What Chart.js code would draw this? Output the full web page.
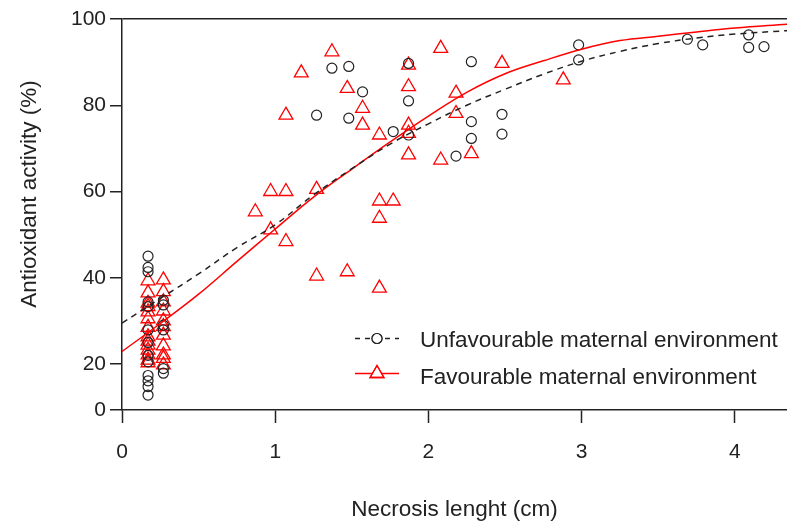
<!DOCTYPE html>
<html>
<head>
<meta charset="utf-8">
<title>Antioxidant activity vs necrosis length</title>
<script src="https://cdn.jsdelivr.net/npm/chart.js@4.4.1/dist/chart.umd.min.js"></script>
<style>
  html, body { margin: 0; padding: 0; background: #ffffff; }
  #wrap { position: relative; width: 787px; height: 525px; }
</style>
</head>
<body>
<div id="wrap"><canvas id="chart"></canvas></div>
<script>
// ---- data ----
const xTicks = [0, 1, 2, 3, 4];
const yTicks = [0, 20, 40, 60, 80, 100];

// fitted curves (read at regular steps along x)
const curveX = [0, 0.25, 0.5, 0.75, 1.0, 1.25, 1.5, 1.75, 2.0, 2.25, 2.5, 2.75, 3.0, 3.25, 3.5, 3.75, 4.0, 4.34];
const unfavCurve = [29.5, 35.2, 40.9, 47.0, 52.3, 59.2, 65.3, 71.0, 75.7, 80.0, 83.7, 87.2, 90.2, 92.5, 94.3, 95.6, 96.5, 97.3];
const favCurve = [22.9, 29.4, 36.2, 43.8, 51.3, 58.7, 65.2, 71.5, 77.5, 83.0, 87.3, 90.3, 93.0, 95.0, 96.0, 97.0, 97.9, 98.8];

// Unfavourable maternal environment (circles)
const unfavX = [
  0.17, 0.17, 0.17, 0.17, 0.17, 0.17, 0.17, 0.17, 0.17, 0.17, 0.17, 0.17, 0.17,
  0.27, 0.27, 0.27, 0.27, 0.27, 0.27,
  1.27, 1.37, 1.48, 1.48, 1.57, 1.77, 1.87, 1.87, 1.87, 2.18, 2.28, 2.28, 2.28,
  2.48, 2.48, 2.98, 2.98, 3.69, 3.79, 4.09, 4.09, 4.19
];
const unfavY = [
  45.0, 42.4, 41.4, 34.4, 33.3, 27.9, 25.0, 22.0, 20.5, 15.0, 12.7, 10.2, 6.5,
  34.8, 33.7, 29.0, 27.9, 18.0, 16.0,
  77.7, 88.6, 89.0, 77.0, 83.1, 73.9, 89.7, 81.0, 73.1, 68.2, 90.1, 76.2, 72.3,
  77.9, 73.3, 94.0, 90.5, 95.3, 94.0, 96.3, 93.4, 93.6
];

// Favourable maternal environment (triangles)
const favX = [
  0.17, 0.17, 0.17, 0.17, 0.17, 0.17, 0.17, 0.17, 0.17, 0.17, 0.17, 0.17, 0.17, 0.17,
  0.27, 0.27, 0.27, 0.27, 0.27, 0.27, 0.27, 0.27, 0.27, 0.27, 0.27,
  0.87, 0.97, 0.97, 1.07, 1.07, 1.07, 1.17, 1.27, 1.27, 1.37, 1.47, 1.47,
  1.57, 1.57, 1.68, 1.68, 1.68, 1.68, 1.77, 1.87, 1.87, 1.87, 1.87, 1.87,
  2.08, 2.08, 2.18, 2.18, 2.28, 2.48, 2.88
];
const favY = [
  39.3, 36.5, 34.1, 33.3, 32.1, 30.5, 28.5, 26.3, 25.3, 24.4, 23.2, 22.1, 20.9, 20.3,
  39.5, 36.8, 34.4, 32.3, 30.0, 28.7, 26.7, 24.2, 22.1, 21.3, 19.6,
  55.3, 60.0, 51.1, 60.0, 48.4, 77.7, 87.5, 60.5, 40.4, 92.4, 83.9, 41.4,
  79.3, 75.4, 73.1, 57.8, 53.8, 37.6, 57.8, 89.3, 84.3, 75.4, 73.5, 68.5,
  93.2, 67.3, 82.8, 78.1, 68.8, 89.7, 85.9
];

const labels = ["Unfavourable maternal environment", "Favourable maternal environment"];

// ---- y axis with the 0-20 stretch squeezed, as in the original ----
const Y_BREAK = 20;
const Y_SQUEEZE = 0.533;
function warp(v) { return v >= Y_BREAK ? v : Y_BREAK - (Y_BREAK - v) * Y_SQUEEZE; }
function unwarp(u) { return u >= Y_BREAK ? u : Y_BREAK - (Y_BREAK - u) / Y_SQUEEZE; }

class SqueezedScale extends Chart.LinearScale {
  getPixelForValue(value) {
    const lo = warp(this.min), hi = warp(this.max);
    return this.getPixelForDecimal((warp(value) - lo) / (hi - lo));
  }
  getValueForPixel(pixel) {
    const lo = warp(this.min), hi = warp(this.max);
    return unwarp(lo + this.getDecimalForPixel(pixel) * (hi - lo));
  }
}
SqueezedScale.id = "squeezed";
SqueezedScale.defaults = {};
Chart.register(SqueezedScale);

const FONT = "'Liberation Sans', Arial, sans-serif";
const INK = "#222222";
const RED = "#ff0000";

const toPoints = (xs, ys) => xs.map((x, i) => ({ x: x, y: ys[i] }));

// legend and y title drawn inside the plot, like the original
const extras = {
  id: "extras",
  afterDraw(chart) {
    const ctx = chart.ctx;
    ctx.save();
    // y axis title
    ctx.fillStyle = INK;
    ctx.font = "22.5px " + FONT;
    ctx.textAlign = "center";
    ctx.textBaseline = "middle";
    ctx.translate(30, 194);
    ctx.rotate(-Math.PI / 2);
    ctx.fillText("Antioxidant activity (%)", 0, 0);
    ctx.restore();

    ctx.save();
    // row 1: dashed line + circle
    ctx.strokeStyle = INK;
    ctx.lineWidth = 1.5;
    ctx.setLineDash([5, 5]);
    ctx.beginPath();
    ctx.moveTo(355, 338.5);
    ctx.lineTo(399, 338.5);
    ctx.stroke();
    ctx.setLineDash([]);
    ctx.fillStyle = "#ffffff";
    ctx.lineWidth = 1.2;
    Chart.helpers.drawPoint(ctx, { pointStyle: "circle", radius: 5, borderWidth: 1.2 }, 377, 338.5);
    ctx.fill();
    ctx.stroke();
    // row 2: solid red line + triangle
    ctx.strokeStyle = RED;
    ctx.lineWidth = 1.5;
    ctx.beginPath();
    ctx.moveTo(355, 373.5);
    ctx.lineTo(399, 373.5);
    ctx.stroke();
    ctx.lineWidth = 1.3;
    Chart.helpers.drawPoint(ctx, { pointStyle: "triangle", radius: 8, borderWidth: 1.3 }, 377, 373.5);
    ctx.stroke();
    // legend text
    ctx.fillStyle = INK;
    ctx.font = "22.5px " + FONT;
    ctx.textAlign = "left";
    ctx.textBaseline = "middle";
    ctx.fillText(labels[0], 420, 341);
    ctx.fillText(labels[1], 420, 378);
    ctx.restore();
  }
};

new Chart(document.getElementById("chart"), {
  type: "scatter",
  data: {
    datasets: [
      {
        label: labels[0] + " fit",
        data: toPoints(curveX, unfavCurve),
        showLine: true,
        borderColor: INK,
        borderWidth: 1.5,
        borderDash: [6, 5],
        pointRadius: 0,
        tension: 0.4,
        fill: false
      },
      {
        label: labels[1] + " fit",
        data: toPoints(curveX, favCurve),
        showLine: true,
        borderColor: RED,
        borderWidth: 1.5,
        pointRadius: 0,
        tension: 0.4,
        fill: false
      },
      {
        label: labels[0],
        data: toPoints(unfavX, unfavY),
        pointStyle: "circle",
        pointRadius: 5,
        borderColor: INK,
        borderWidth: 1.2,
        backgroundColor: "rgba(0,0,0,0)"
      },
      {
        label: labels[1],
        data: toPoints(favX, favY),
        pointStyle: "triangle",
        pointRadius: 8,
        borderColor: RED,
        borderWidth: 1.3,
        backgroundColor: "rgba(0,0,0,0)"
      }
    ]
  },
  options: {
    responsive: true,
    maintainAspectRatio: false,
    animation: false,
    events: [],
    layout: { autoPadding: false, padding: { top: 19, right: 0, bottom: 0, left: 0 } },
    plugins: {
      legend: { display: false },
      tooltip: { enabled: false }
    },
    scales: {
      x: {
        type: "linear",
        min: 0,
        max: 4.34,
        afterBuildTicks: scale => { scale.ticks = xTicks.map(v => ({ value: v })); },
        afterFit: scale => {
          scale.height = 115;
          scale.paddingLeft = 0;
          scale.paddingRight = 0;
        },
        border: { color: INK, width: 1.5 },
        grid: { drawOnChartArea: false, drawTicks: true, tickLength: 13, tickColor: INK, tickWidth: 1.5 },
        ticks: { color: INK, font: { family: FONT, size: 21 }, padding: 17 },
        title: {
          display: true,
          text: "Necrosis lenght (cm)",
          color: INK,
          font: { family: FONT, size: 22.5 },
          padding: { top: 0, bottom: 2 }
        }
      },
      y: {
        type: "squeezed",
        min: 0,
        max: 100,
        afterBuildTicks: scale => { scale.ticks = yTicks.map(v => ({ value: v })); },
        afterFit: scale => { scale.width = 122; },
        border: { color: INK, width: 1.5 },
        grid: {
          drawOnChartArea: true,
          color: c => (c.tick && c.tick.value === 100 ? INK : "rgba(0,0,0,0)"),
          lineWidth: 1.5,
          drawTicks: true,
          tickLength: 12,
          tickColor: INK,
          tickWidth: 1.5
        },
        ticks: {
          color: INK,
          font: { family: FONT, size: 21 },
          padding: 4,
          callback: v => String(v)
        }
      }
    }
  },
  plugins: [extras]
});
</script>
</body>
</html>
